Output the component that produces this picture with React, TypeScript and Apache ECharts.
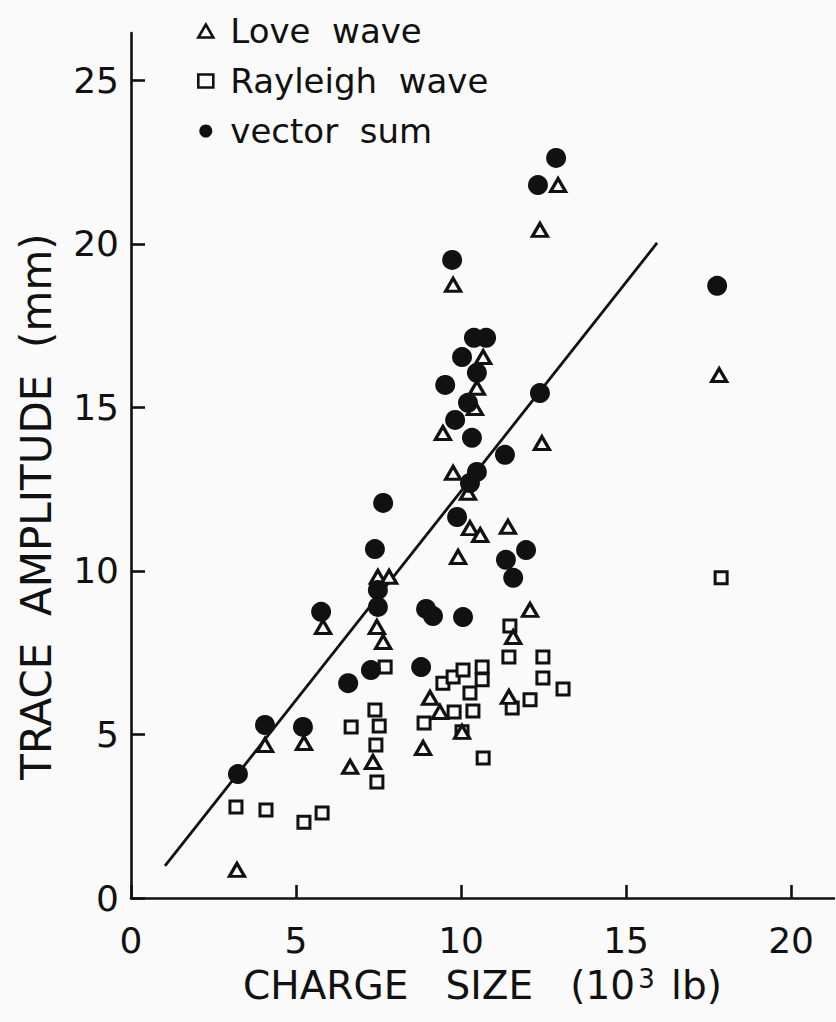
import React, { useEffect, useRef } from "react";
import * as echarts from "echarts";

const xTicks = [0, 5, 10, 15, 20];
const yTicks = [0, 5, 10, 15, 20, 25];

const loveWave: number[][] = [
  [3.21, 0.86], [4.06, 4.68], [5.24, 4.74], [6.64, 4.01], [7.33, 4.16],
  [7.45, 8.29], [7.64, 7.83], [5.82, 8.29], [7.48, 9.82], [7.82, 9.82],
  [8.85, 4.59], [9.06, 6.12], [9.36, 5.69], [10.03, 5.08], [11.45, 6.15],
  [11.58, 7.98], [12.09, 8.81], [11.42, 11.35], [10.27, 11.31], [10.58, 11.1],
  [9.91, 10.43], [10.21, 12.39], [9.76, 13.0], [9.45, 14.22], [10.42, 14.98],
  [10.48, 15.6], [10.67, 16.54], [9.76, 18.75], [12.39, 20.43], [12.94, 21.8],
  [12.45, 13.91], [17.82, 15.99],
];

const rayleighWave: number[][] = [
  [3.18, 2.78], [4.09, 2.69], [5.24, 2.32], [5.79, 2.6], [6.67, 5.23],
  [7.7, 7.06], [7.39, 5.75], [7.52, 5.26], [7.42, 4.68], [7.45, 3.55],
  [8.88, 5.35], [9.45, 6.57], [9.76, 6.76], [10.06, 6.97], [10.64, 7.06],
  [10.64, 6.67], [10.27, 6.27], [10.36, 5.72], [9.79, 5.69], [10.03, 5.08],
  [10.67, 4.28], [11.48, 8.32], [11.45, 7.37], [12.48, 7.37], [12.48, 6.73],
  [13.09, 6.39], [12.09, 6.06], [11.55, 5.81], [17.88, 9.79],
];

const vectorSum: number[][] = [
  [3.24, 3.79], [4.06, 5.29], [5.21, 5.23], [5.76, 8.75], [6.58, 6.57],
  [7.27, 6.97], [8.79, 7.06], [7.64, 12.08], [7.39, 10.67], [7.48, 9.42],
  [7.48, 8.9], [8.94, 8.84], [9.15, 8.62], [10.06, 8.59], [11.97, 10.64],
  [11.36, 10.34], [11.58, 9.79], [9.88, 11.65], [10.48, 13.03], [10.27, 12.69],
  [11.33, 13.55], [10.33, 14.07], [9.82, 14.62], [10.21, 15.14], [9.52, 15.69],
  [10.48, 16.06], [10.03, 16.54], [10.39, 17.13], [10.76, 17.13], [9.73, 19.51],
  [12.33, 21.8], [12.88, 22.63], [12.39, 15.44], [17.76, 18.72],
];

const fitLine: number[][] = [
  [1.03, 0.98],
  [15.94, 20.03],
];

const seriesNames = ["Love wave", "Rayleigh wave", "vector sum"];
const xTitle = "CHARGE   SIZE   (10";
const xTitleSup = "3";
const xTitleEnd = " lb)";
const yTitle = "TRACE  AMPLITUDE  (mm)";

const FONT = "DejaVu Sans";
const INK = "#111";
const PAPER = "#fafafa";

export default function App() {
  const ref = useRef<HTMLDivElement>(null);

  useEffect(() => {
    if (!ref.current) return;
    const chart = echarts.init(ref.current, null, { renderer: "svg" });
    chart.setOption({
      animation: false,
      backgroundColor: PAPER,
      textStyle: { fontFamily: FONT, color: INK },
      grid: { left: 131, right: 2, top: 33, bottom: 124, containLabel: false },
      legend: {
        data: [
          { name: seriesNames[0], itemStyle: { color: PAPER, borderColor: INK, borderWidth: 2.6 } },
          { name: seriesNames[1], itemStyle: { color: PAPER, borderColor: INK, borderWidth: 2.6 } },
          { name: seriesNames[2], itemStyle: { color: INK, borderWidth: 0 } },
        ],
        orient: "vertical",
        left: 192,
        top: 8,
        itemWidth: 15,
        itemHeight: 13,
        itemGap: 14,
        selectedMode: false,
        formatter: (n: string) => n.replace(" ", "  "),
        textStyle: {
          fontFamily: FONT,
          fontSize: 34,
          color: INK,
          lineHeight: 36,
          padding: [0, 0, 0, 12],
        },
      },
      xAxis: {
        type: "value",
        min: 0,
        max: 21.3,
        interval: 5,
        splitLine: { show: false },
        axisLine: { lineStyle: { color: INK, width: 2.6 } },
        axisTick: {
          inside: true,
          length: 13,
          customValues: xTicks,
          lineStyle: { color: INK, width: 2.6 },
        },
        axisLabel: {
          customValues: xTicks,
          fontSize: 36,
          fontFamily: FONT,
          color: INK,
          margin: 24,
        },
        name: `{t|${xTitle}}{s|${xTitleSup}}{t|${xTitleEnd}}`,
        nameLocation: "middle",
        nameGap: 68,
        nameTextStyle: {
          rich: {
            t: { fontSize: 39, fontFamily: FONT, color: INK },
            s: { fontSize: 26, fontFamily: FONT, color: INK, verticalAlign: "top", padding: [0, 4, 0, 3] },
          },
        },
      },
      yAxis: {
        type: "value",
        min: 0,
        max: 26.45,
        interval: 5,
        splitLine: { show: false },
        axisLine: { lineStyle: { color: INK, width: 2.6 } },
        axisTick: {
          inside: true,
          length: 14,
          customValues: yTicks,
          lineStyle: { color: INK, width: 2.6 },
        },
        axisLabel: {
          customValues: yTicks,
          fontSize: 36,
          fontFamily: FONT,
          color: INK,
          margin: 12,
        },
        name: yTitle,
        nameLocation: "middle",
        nameRotate: 90,
        nameGap: 74,
        nameTextStyle: {
          fontSize: 42,
          fontFamily: FONT,
          color: INK,
          padding: [0, 82, 0, 0],
        },
      },
      series: [
        {
          name: "fit",
          type: "line",
          data: fitLine,
          showSymbol: false,
          silent: true,
          lineStyle: { color: INK, width: 2.8 },
          z: 1,
        },
        {
          name: seriesNames[1],
          type: "scatter",
          data: rayleighWave,
          symbol: "rect",
          symbolSize: 12,
          itemStyle: { color: PAPER, borderColor: INK, borderWidth: 3, opacity: 1 },
          z: 2,
        },
        {
          name: seriesNames[0],
          type: "scatter",
          data: loveWave,
          symbol: "triangle",
          symbolSize: [15, 13],
          itemStyle: { color: PAPER, borderColor: INK, borderWidth: 3.2, opacity: 1 },
          z: 3,
        },
        {
          name: seriesNames[2],
          type: "scatter",
          data: vectorSum,
          symbol: "circle",
          symbolSize: 20,
          itemStyle: { color: INK, borderWidth: 0, opacity: 1 },
          z: 4,
        },
      ],
    });
    return () => chart.dispose();
  }, []);

  return (
    <div
      ref={ref}
      style={{ position: "fixed", left: 0, top: 0, width: 836, height: 1022 }}
    />
  );
}
